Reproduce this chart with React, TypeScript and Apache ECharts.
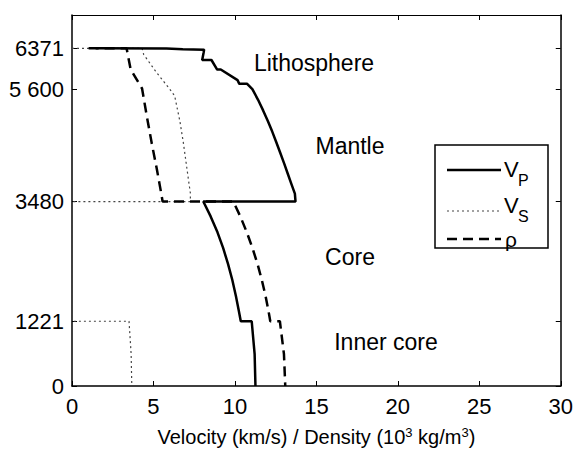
import React, { useEffect, useRef } from "react";
import * as echarts from "echarts";

// Profiles (radius in km, from surface to centre)
const vpRadius = [6371, 6368, 6368, 6356, 6356, 6346.6, 6346.6, 6291, 6151, 6151, 5971, 5971, 5771, 5701, 5701, 5600, 5400, 5200, 5000, 4800, 4600, 4400, 4200, 4000, 3800, 3630, 3480, 3480, 3200, 2900, 2600, 2300, 2000, 1700, 1400, 1221.5, 1221.5, 600, 0];
const vpValues = [1.45, 1.45, 5.8, 5.8, 6.8, 6.8, 8.11, 8.08, 7.99, 8.56, 8.91, 9.13, 10.16, 10.27, 10.75, 11.07, 11.42, 11.73, 12.02, 12.29, 12.54, 12.78, 13.02, 13.25, 13.48, 13.68, 13.72, 8.06, 8.51, 8.93, 9.28, 9.58, 9.84, 10.06, 10.25, 10.36, 11.03, 11.21, 11.26];

const vsRadius = [6371, 6371, 6255, 5914, 5602, 5474, 5000, 4600, 4200, 3800, 3630, 3480, 3480, 1221.5, 1221.5, 600, 0];
const vsValues = [0, 4.3, 4.4, 5.19, 6.0, 6.3, 6.62, 6.83, 7.01, 7.19, 7.27, 7.26, 0, 0, 3.5, 3.63, 3.67];

const rhoRadius = [6371, 6371, 5974, 5613, 5076, 4571, 4103, 3800, 3630, 3480, 3480, 3200, 2900, 2600, 2300, 2000, 1700, 1400, 1221.5, 1221.5, 600, 0];
const rhoValues = [1.02, 3.35, 3.6, 4.3, 4.6, 4.9, 5.2, 5.38, 5.48, 5.56, 9.9, 10.33, 10.73, 11.08, 11.39, 11.65, 11.88, 12.07, 12.17, 12.76, 13.01, 13.09];

const radiusTicks = [0, 1221, 3480, 5600, 6371];
const radiusTickLabels = ["0", "1221", "3480", "5 600", "6371"];
const regionLabels = ["Lithosphere", "Mantle", "Core", "Inner core"];

const FONT = "'Liberation Sans', Arial, Helvetica, sans-serif";

export default function App() {
  const ref = useRef<HTMLDivElement>(null);

  useEffect(() => {
    if (!ref.current) return;
    const chart = echarts.init(ref.current, undefined, { renderer: "svg" });

    const toPairs = (rs: number[], vs: number[]) => rs.map((r, i) => [vs[i], r]);

    const yLabelFmt = (v: number) => {
      const idx = radiusTicks.indexOf(Math.round(v));
      return idx >= 0 ? radiusTickLabels[idx] : "";
    };

    const regionPos = [
      [314, 63],
      [350, 146],
      [350, 257],
      [386, 342],
    ];

    const option: any = {
      animation: false,
      backgroundColor: "#fff",
      grid: { left: 72, right: 13, top: 15, bottom: 63, containLabel: false },
      xAxis: [
        {
          type: "value",
          min: 0,
          max: 30,
          interval: 5,
          position: "bottom",
          axisLine: { show: true, onZero: false, lineStyle: { color: "#000", width: 1.5 } },
          axisTick: { show: true, inside: true, length: 5, lineStyle: { color: "#000", width: 1 } },
          axisLabel: { color: "#000", fontSize: 22, fontFamily: FONT, margin: 9 },
          splitLine: { show: false },
          name: "Velocity (km/s) / Density (10{sup|3} kg/m{sup|3})",
          nameLocation: "middle",
          nameGap: 40,
          nameTextStyle: {
            color: "#000",
            fontSize: 20,
            fontFamily: FONT,
            rich: {
              sup: { fontSize: 13, fontFamily: FONT, color: "#000", padding: [0, 0, 9, 0] },
            },
          },
        },
        {
          type: "value",
          min: 0,
          max: 30,
          interval: 5,
          position: "top",
          axisLine: { show: true, onZero: false, lineStyle: { color: "#000", width: 1 } },
          axisTick: { show: true, inside: true, length: 5, lineStyle: { color: "#000", width: 1 } },
          axisLabel: { show: false },
          splitLine: { show: false },
        },
      ],
      yAxis: [
        {
          type: "value",
          min: 0,
          max: 7000,
          position: "left",
          axisLine: { show: true, onZero: false, lineStyle: { color: "#000", width: 1.5 } },
          axisTick: { show: true, inside: true, length: 5, customValues: radiusTicks, lineStyle: { color: "#000", width: 1 } },
          axisLabel: { color: "#000", fontSize: 22, fontFamily: FONT, margin: 8, customValues: radiusTicks, formatter: yLabelFmt },
          splitLine: { show: false },
        },
        {
          type: "value",
          min: 0,
          max: 7000,
          position: "right",
          axisLine: { show: true, onZero: false, lineStyle: { color: "#000", width: 1.5 } },
          axisTick: { show: true, inside: true, length: 5, customValues: radiusTicks, lineStyle: { color: "#000", width: 1 } },
          axisLabel: { show: false },
          splitLine: { show: false },
        },
      ],
      series: [
        {
          name: "V_S",
          type: "line",
          data: toPairs(vsRadius, vsValues),
          showSymbol: false,
          symbol: "none",
          lineStyle: { color: "#444", width: 1.2, type: [2, 3] },
          z: 2,
        },
        {
          name: "rho",
          type: "line",
          data: toPairs(rhoRadius, rhoValues),
          showSymbol: false,
          symbol: "none",
          lineStyle: { color: "#000", width: 2.5, type: [10, 6] },
          z: 3,
        },
        {
          name: "V_P",
          type: "line",
          data: toPairs(vpRadius, vpValues),
          showSymbol: false,
          symbol: "none",
          lineStyle: { color: "#000", width: 2.5, type: "solid" },
          z: 4,
        },
      ],
      graphic: [
        ...regionLabels.map((t, i) => ({
          type: "text",
          x: regionPos[i][0],
          y: regionPos[i][1],
          style: {
            text: t,
            fontSize: 23,
            fontFamily: FONT,
            fill: "#000",
            align: "center",
            verticalAlign: "middle",
          },
        })),
        {
          type: "rect",
          shape: { x: 435, y: 145, width: 113, height: 103 },
          style: { fill: "#fff", stroke: "#000", lineWidth: 1.5 },
          z: 10,
        },
        {
          type: "line",
          shape: { x1: 447, y1: 170, x2: 501, y2: 170 },
          style: { stroke: "#000", lineWidth: 2.5 },
          z: 11,
        },
        {
          type: "line",
          shape: { x1: 447, y1: 211, x2: 501, y2: 211 },
          style: { stroke: "#444", lineWidth: 1.2, lineDash: [2, 3] },
          z: 11,
        },
        {
          type: "line",
          shape: { x1: 447, y1: 239, x2: 501, y2: 239 },
          style: { stroke: "#000", lineWidth: 2.5, lineDash: [10, 6] },
          z: 11,
        },
        {
          type: "text",
          x: 504,
          y: 169,
          style: { text: "V", fontSize: 22, fontFamily: FONT, fill: "#000", verticalAlign: "middle" },
          z: 11,
        },
        {
          type: "text",
          x: 518,
          y: 180,
          style: { text: "P", fontSize: 16, fontFamily: FONT, fill: "#000", verticalAlign: "middle" },
          z: 11,
        },
        {
          type: "text",
          x: 504,
          y: 205,
          style: { text: "V", fontSize: 22, fontFamily: FONT, fill: "#000", verticalAlign: "middle" },
          z: 11,
        },
        {
          type: "text",
          x: 518,
          y: 216,
          style: { text: "S", fontSize: 16, fontFamily: FONT, fill: "#000", verticalAlign: "middle" },
          z: 11,
        },
        {
          type: "text",
          x: 505,
          y: 239,
          style: { text: "ρ", fontSize: 21, fontFamily: FONT, fill: "#000", verticalAlign: "middle" },
          z: 11,
        },
      ],
    };

    chart.setOption(option);
    return () => chart.dispose();
  }, []);

  return (
    <div
      ref={ref}
      style={{ position: "absolute", left: 0, top: 0, width: 576, height: 452, background: "#fff" }}
    />
  );
}
